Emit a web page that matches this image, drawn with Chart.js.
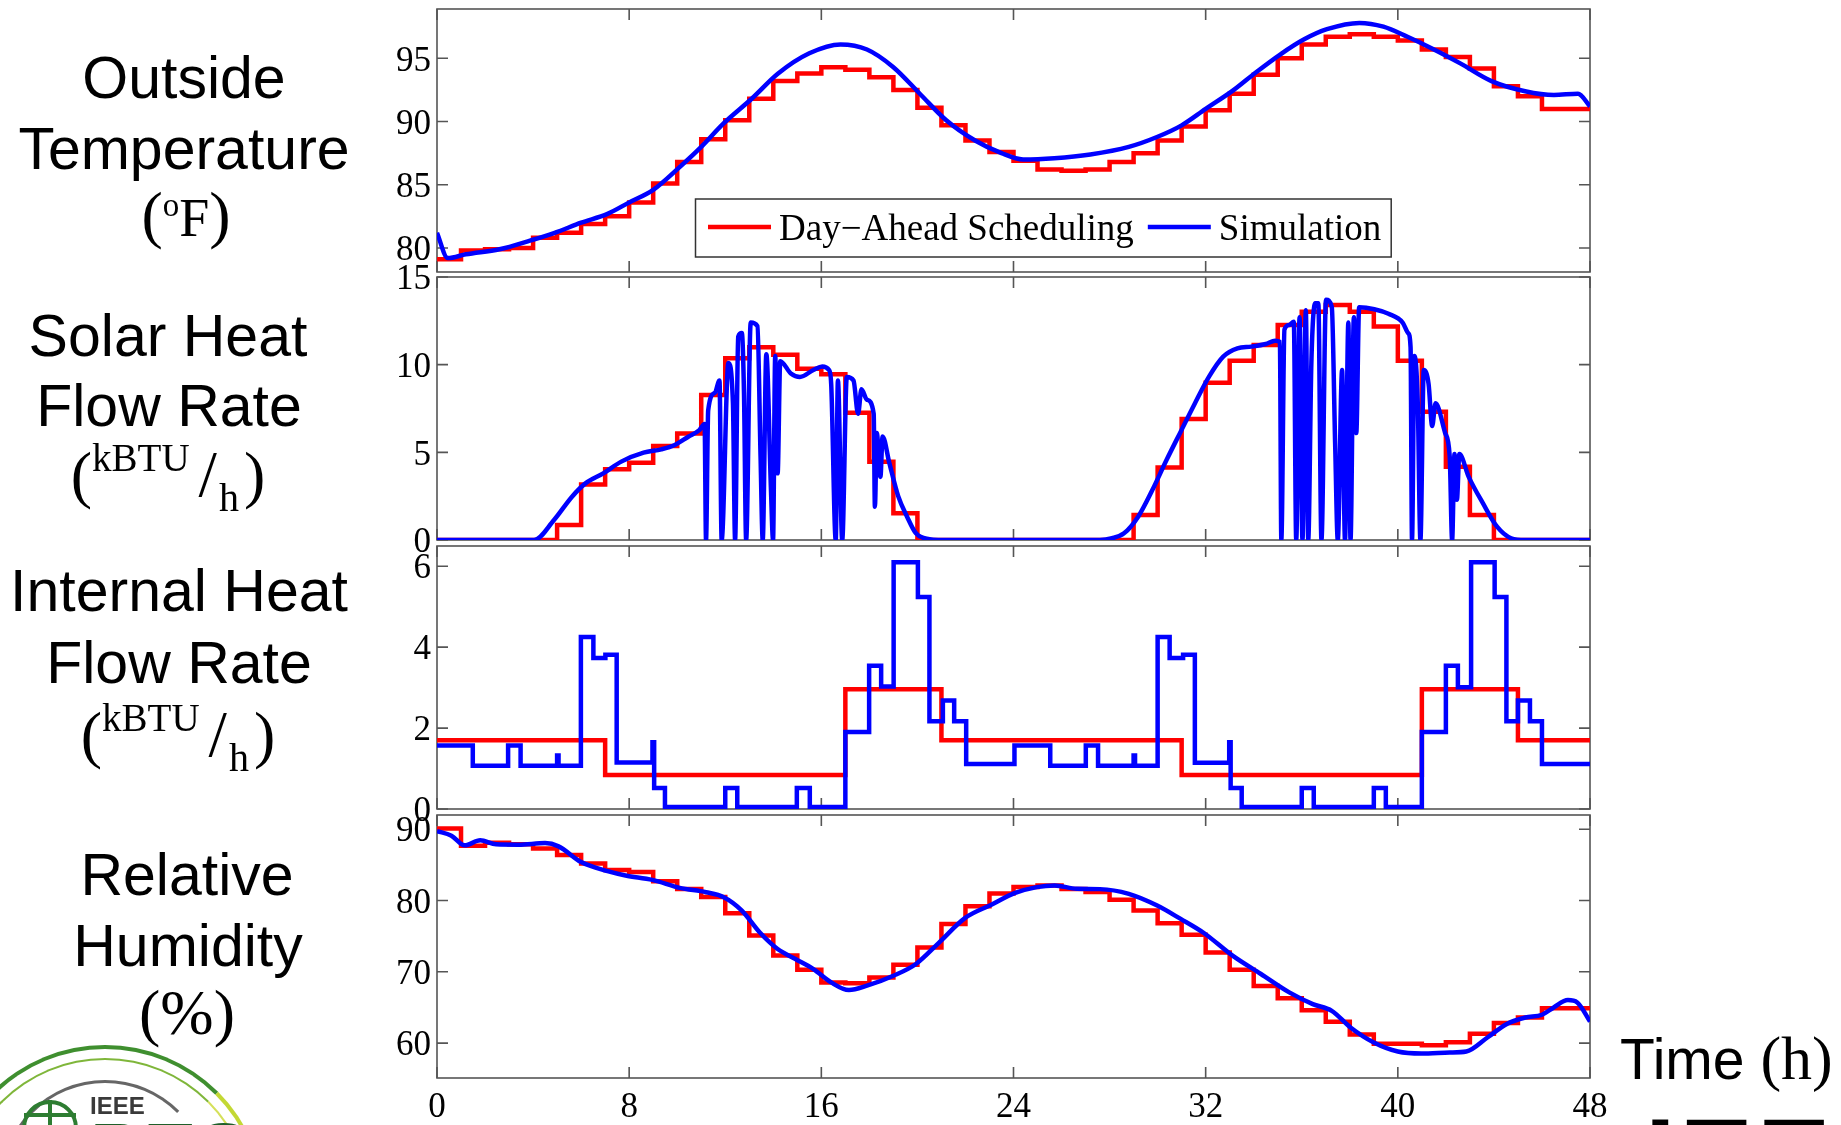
<!DOCTYPE html>
<html>
<head>
<meta charset="utf-8">
<title>Day-ahead scheduling vs simulation</title>
<script src="https://cdn.jsdelivr.net/npm/chart.js@4.4.1/dist/chart.umd.min.js"></script>
<style>
html, body { margin: 0; padding: 0; background: #fff; }
#page { position: relative; width: 1841px; height: 1125px; overflow: hidden; background: #fff; }
#page canvas { position: absolute; left: 0; }
.lab { position: absolute; width: 420px; text-align: center; white-space: nowrap; line-height: 1; color: #000; }
.sans { font-family: "Liberation Sans", Arial, sans-serif; font-size: 59px; }
.serif { font-family: "Liberation Serif", "Times New Roman", serif; font-size: 64px; }
.shift { position: relative; line-height: 1; }
.logo-arc { position: absolute; border-radius: 50%; box-sizing: border-box; }
</style>
</head>
<body>
<div id="page">
  <canvas id="c1" width="1640" height="297" style="top:0px"></canvas>
  <canvas id="c2" width="1640" height="313" style="top:252px"></canvas>
  <canvas id="c3" width="1640" height="313" style="top:521px"></canvas>
  <canvas id="c4" width="1640" height="335" style="top:790px"></canvas>
</div>
<script>
// values: hourly schedule (red) and simulated traces (blue)

var hours = [0, 1, 2, 3, 4, 5, 6, 7, 8, 9, 10, 11, 12, 13, 14, 15, 16, 17, 18, 19, 20, 21, 22, 23,
	24, 25, 26, 27, 28, 29, 30, 31, 32, 33, 34, 35, 36, 37, 38, 39, 40, 41, 42, 43, 44, 45, 46, 47];
var timeTicks = [0, 8, 16, 24, 32, 40, 48];

// outside temperature (F)
var tempTicks = [80, 85, 90, 95];
var tempSched = [79.1, 79.8, 79.9, 80.0, 80.8, 81.2, 81.9, 82.5, 83.6, 85.1, 86.8, 88.6,
	90.1, 91.8, 93.2, 93.8, 94.3, 94.1, 93.5, 92.5, 91.1, 89.7, 88.5, 87.6,
	86.9, 86.2, 86.1, 86.2, 86.8, 87.5, 88.5, 89.6, 90.9, 92.2, 93.7, 95.0,
	96.1, 96.7, 96.9, 96.7, 96.4, 95.7, 95.1, 94.2, 92.8, 92.0, 91.0, 91.0];
var tempSimT = [0, 0.45, 1.2, 2.6, 3.9, 4.9, 6.0, 7.1, 8.0, 9.0, 10.1, 11.0, 11.9, 13.1, 14.2, 15.5,
	16.8, 17.9, 19.0, 20.1, 21.2, 22.4, 23.5, 24.4, 25.7, 27.2, 28.8, 30.0, 31.0, 32.0, 33.1,
	34.1, 35.1, 36.1, 37.05, 38.4, 39.4, 40.4, 41.4, 42.6, 43.9, 45.3, 46.5, 47.5, 48];
var tempSimV = [81.2, 79.2, 79.5, 79.9, 80.6, 81.2, 82.0, 82.7, 83.6, 84.6, 86.4, 88.0, 89.8, 91.8, 93.8, 95.4,
	96.1, 95.7, 94.3, 92.2, 90.1, 88.5, 87.5, 87.0, 87.1, 87.4, 88.0, 88.8, 89.7, 91.0, 92.4,
	93.9, 95.3, 96.5, 97.3, 97.8, 97.5, 96.7, 95.8, 94.6, 93.2, 92.4, 92.1, 92.2, 91.2];

// solar heat flow rate (kBTU/h)
var solarTicks = [0, 5, 10, 15];
var solarSched = [0, 0, 0, 0, 0, 0.86, 3.17, 4.03, 4.41, 5.36, 6.08, 8.27,
	10.36, 10.99, 10.57, 9.77, 9.45, 7.26, 4.47, 1.52, 0, 0, 0, 0,
	0, 0, 0, 0, 0, 1.43, 4.14, 6.90, 8.97, 10.23, 11.12, 12.26,
	13.02, 13.40, 13.02, 12.17, 10.23, 7.32, 4.18, 1.43, 0, 0, 0, 0];
var solarSimT = [0, 4.04, 4.87, 5.62, 6.18, 6.92, 7.67, 8.60, 9.34, 9.90, 10.46, 10.92, 11.14,
	11.20, 11.29, 11.57, 11.76, 11.85, 12.13, 12.32, 12.41, 12.54, 12.69, 12.78, 12.87,
	13.06, 13.34, 13.47, 13.56, 13.71, 13.90, 13.99, 14.08, 14.18, 14.29, 14.73, 15.11,
	15.67, 16.04, 16.32, 16.41, 16.60, 16.69, 16.87, 17.06, 17.34, 17.53, 17.67, 17.90,
	18.18, 18.23, 18.31, 18.46, 18.55, 18.83, 19.20, 19.57, 19.94, 20.50, 20.87,
	27.6, 28.1, 28.6, 29.19, 29.78, 30.37, 30.96, 31.55, 32.14, 32.73, 33.32, 33.9, 34.5,
	34.89, 35.09, 35.15, 35.28, 35.48, 35.67, 35.77, 35.91, 36.03, 36.17, 36.27, 36.4,
	36.56, 36.69, 36.82, 37.01, 37.25, 37.39, 37.5, 37.68, 37.8, 37.94, 38.03, 38.17,
	38.27, 38.39, 39.02, 39.61, 40.2, 40.43, 40.53, 40.59, 40.69, 40.83, 40.94, 41.08,
	41.28, 41.43, 41.57, 41.97, 42.16, 42.26, 42.36, 42.46, 42.56, 42.95, 43.54, 44.13,
	44.72, 45.3, 48];
var solarSimV = [0, 0, 1.14, 2.47, 3.23, 3.80, 4.47, 4.98, 5.17, 5.42, 5.89, 6.27, 6.62,
	0, 7.4, 8.4, 9.1, 0, 10.1, 7.8, 0, 11.6, 11.8, 8.4, 0,
	12.4, 12.2, 4.75, 0, 10.6, 3.0, 0, 10.5, 3.8, 10.2, 9.5, 9.3,
	9.7, 9.9, 9.7, 8.9, 0, 9.1, 0, 9.3, 9.1, 7.2, 8.6, 8.0,
	7.2, 1.9, 6.1, 3.6, 5.9, 4.4, 2.5, 1.33, 0.38, 0.04, 0,
	0, 0.1, 0.38, 1.33, 2.85, 4.56, 6.18, 7.79, 9.32, 10.46, 10.93, 11.03, 11.18,
	11.37, 11.3, 0, 12.0, 12.26, 12.45, 0, 12.7, 0, 13.1, 0, 10.1,
	13.5, 13.5, 0, 13.7, 13.3, 5.5, 0, 9.7, 0, 12.4, 0, 12.7,
	6.1, 13.27, 13.16, 12.9, 12.4, 11.8, 11.0, 0, 10.5, 7.8, 0, 9.7,
	8.9, 6.5, 7.8, 6.1, 4.75, 0, 4.9, 2.3, 4.9, 3.6, 2.1, 0.76,
	0.1, 0, 0];

// internal heat flow rate (kBTU/h)
var internalTicks = [0, 2, 4, 6];
var internalSched = [1.70, 1.70, 1.70, 1.70, 1.70, 1.70, 1.70, 0.84, 0.84, 0.84, 0.84, 0.84,
	0.84, 0.84, 0.84, 0.84, 0.84, 2.96, 2.96, 2.96, 2.96, 1.70, 1.70, 1.70,
	1.70, 1.70, 1.70, 1.70, 1.70, 1.70, 1.70, 0.84, 0.84, 0.84, 0.84, 0.84,
	0.84, 0.84, 0.84, 0.84, 0.84, 2.96, 2.96, 2.96, 2.96, 1.70, 1.70, 1.70];
var internalSimT = [0, 1.49, 2.96, 3.48, 5.0, 5.06, 5.99, 6.51, 7.01, 7.48, 8.97, 9.04, 9.49,
	12.0, 12.5, 14.98, 15.52, 17.0, 17.99, 18.49, 19.01, 20.02, 20.5, 21.06, 21.53, 22.03,
	24.04, 25.53, 27.01, 27.52, 29.0, 29.06, 30.0, 30.5, 31.06, 31.55, 32.98, 33.04, 33.5,
	36.0, 36.5, 39.0, 39.5, 41.0, 42.0, 42.5, 43.05, 44.03, 44.52, 45.0, 45.5, 46.0, 48];
var internalSimV = [1.57, 1.07, 1.57, 1.07, 1.32, 1.07, 4.25, 3.73, 3.81, 1.15, 1.65, 0.52, 0.05,
	0.52, 0.05, 0.52, 0.05, 1.90, 3.54, 3.03, 6.10, 5.24, 2.17, 2.68, 2.17, 1.11,
	1.57, 1.07, 1.57, 1.07, 1.32, 1.07, 4.25, 3.73, 3.81, 1.14, 1.65, 0.52, 0.05,
	0.52, 0.05, 0.52, 0.05, 1.90, 3.54, 3.01, 6.10, 5.24, 2.17, 2.68, 2.17, 1.11, 1.11];

// relative humidity (%)
var humidTicks = [60, 70, 80, 90];
var humidSched = [90.1, 87.7, 88.1, 87.9, 87.3, 86.4, 85.2, 84.3, 84.0, 82.7, 81.6, 80.5,
	78.2, 75.1, 72.3, 70.3, 68.5, 68.4, 69.2, 71.0, 73.4, 76.7, 79.2, 81.0,
	81.9, 82.1, 81.6, 81.2, 80.1, 78.6, 76.8, 75.2, 72.7, 70.3, 68.0, 66.3,
	64.6, 63.0, 61.2, 59.9, 59.9, 59.7, 60.1, 61.3, 62.8, 63.6, 64.9, 64.9];
var humidSimT = [0, 0.6, 1.15, 1.8, 2.46, 3.39, 4.5, 5.06, 6.0, 7.1, 7.85, 8.97, 10.1, 11.2, 11.94,
	12.69, 13.43, 14.18, 14.92, 15.67, 16.41, 17.15, 17.9, 19.0, 19.94, 20.87, 21.99, 23.1,
	24.04, 24.97, 25.71, 26.64, 27.6, 28.8, 29.98, 30.96, 31.94, 33.12, 34.3, 35.48, 36.46,
	37.25, 38.03, 39.0, 40.0, 40.98, 42.16, 42.85, 43.73, 44.52, 45.31, 46.0, 46.49, 47.08,
	47.47, 48];
var humidSimV = [89.75, 89.1, 87.74, 88.44, 87.88, 87.83, 88.06, 87.6, 85.39, 84.13, 83.52, 82.9, 81.78, 81.17, 80.47,
	78.59, 75.55, 73.2, 71.8, 70.39, 68.51, 67.44, 68.05, 69.45, 71.1, 74.0, 77.56, 79.44,
	81.03, 81.88, 82.11, 81.64, 81.6, 80.94, 79.3, 77.42, 75.41, 72.26, 69.69, 67.11, 65.47,
	64.53, 62.19, 60.08, 58.81, 58.53, 58.67, 58.81, 60.78, 62.65, 63.59, 63.97, 65.0, 66.03,
	65.7, 63.03];

var schedLabel = 'Day\u2212Ahead Scheduling';
var simLabel = 'Simulation';

// ---- drawing ----

var SERIF = '"Liberation Serif", "Times New Roman", serif';
var AXIS_LEFT = 437;
var TICK_LEN = 11;

function stepPoints(vals) {
	var pts = hours.map(function(h, i) { return {x: h, y: vals[i]}; });
	pts.push({x: 48, y: vals[vals.length - 1]});
	return pts;
}
function tracePoints(t, v) {
	return t.map(function(x, i) { return {x: x, y: v[i]}; });
}

// box round the plot with inward ticks on all four sides (matlab look)
var frame = {
	id: 'frame',
	beforeDatasetsDraw: function(chart) {
		var ctx = chart.ctx, a = chart.chartArea, xs = chart.scales.x, ys = chart.scales.y;
		ctx.save();
		ctx.strokeStyle = '#555';
		ctx.lineWidth = 1.6;
		ctx.strokeRect(a.left, a.top, a.right - a.left, a.bottom - a.top);
		ctx.beginPath();
		xs.ticks.forEach(function(t) {
			var px = xs.getPixelForValue(t.value);
			ctx.moveTo(px, a.bottom); ctx.lineTo(px, a.bottom - TICK_LEN);
			ctx.moveTo(px, a.top); ctx.lineTo(px, a.top + TICK_LEN);
		});
		ys.ticks.forEach(function(t) {
			var py = ys.getPixelForValue(t.value);
			ctx.moveTo(a.left, py); ctx.lineTo(a.left + TICK_LEN, py);
			ctx.moveTo(a.right, py); ctx.lineTo(a.right - TICK_LEN, py);
		});
		ctx.stroke();
		ctx.restore();
	}
};

// legend box drawn inside the top panel
var legendBox = {
	id: 'legendBox',
	afterDatasetsDraw: function(chart) {
		var ctx = chart.ctx, a = chart.chartArea;
		var sets = chart.data.datasets;
		ctx.save();
		ctx.font = '37px ' + SERIF;
		var left = a.left + 258.5, top = a.top + 190, h = 58;
		var lineLen = 63, textGap = 8, itemGap = 14;
		var w = 12.5;
		sets.forEach(function(s, i) {
			w += lineLen + textGap + ctx.measureText(s.label).width + (i < sets.length - 1 ? itemGap : 10);
		});
		ctx.fillStyle = '#fff';
		ctx.fillRect(left, top, w, h);
		ctx.strokeStyle = '#333';
		ctx.lineWidth = 1.5;
		ctx.strokeRect(left, top, w, h);
		var x = left + 12.5;
		sets.forEach(function(s) {
			ctx.strokeStyle = s.borderColor;
			ctx.lineWidth = 4.5;
			ctx.beginPath();
			ctx.moveTo(x, top + 28); ctx.lineTo(x + lineLen, top + 28);
			ctx.stroke();
			x += lineLen + textGap;
			ctx.fillStyle = '#000';
			ctx.textBaseline = 'alphabetic';
			ctx.fillText(s.label, x, top + 41);
			x += ctx.measureText(s.label).width + itemGap;
		});
		ctx.restore();
	}
};

function makePanel(id, opt) {
	var ctx = document.getElementById(id).getContext('2d');
	var simSet = {
		label: simLabel,
		data: tracePoints(opt.simT, opt.simV),
		borderColor: '#0000ff',
		borderWidth: 4.5,
		pointRadius: 0,
		order: 0
	};
	if (opt.simStepped) {
		simSet.stepped = 'before';
	} else {
		simSet.cubicInterpolationMode = 'monotone';
	}
	return new Chart(ctx, {
		type: 'line',
		data: {
			datasets: [{
				label: schedLabel,
				data: stepPoints(opt.sched),
				borderColor: '#ff0000',
				borderWidth: 4.5,
				pointRadius: 0,
				stepped: 'before',
				order: 1
			}, simSet]
		},
		options: {
			responsive: false,
			animation: false,
			devicePixelRatio: 1,
			events: [],
			layout: { padding: { left: 0, right: 50, top: opt.padTop, bottom: opt.padBottom } },
			plugins: { legend: { display: false }, tooltip: { enabled: false } },
			scales: {
				x: {
					type: 'linear', min: 0, max: 48,
					grid: { display: false, drawTicks: false },
					border: { display: false },
					ticks: { display: opt.showX, color: '#000', font: { family: SERIF, size: 35 }, padding: 9, maxRotation: 0, autoSkip: false },
					afterBuildTicks: function(s) { s.ticks = timeTicks.map(function(v) { return {value: v}; }); },
					afterFit: function(s) { s.height = opt.xHeight; s.paddingLeft = 0; s.paddingRight = 0; }
				},
				y: {
					type: 'linear', min: opt.min, max: opt.max,
					grid: { display: false, drawTicks: false },
					border: { display: false },
					ticks: { color: '#000', font: { family: SERIF, size: 35 }, padding: 6, labelOffset: 3, autoSkip: false },
					afterBuildTicks: function(s) { s.ticks = opt.ticks.map(function(v) { return {value: v}; }); },
					afterFit: function(s) { s.width = AXIS_LEFT; s.paddingTop = 0; s.paddingBottom = 0; }
				}
			}
		},
		plugins: opt.legend ? [frame, legendBox] : [frame]
	});
}

makePanel('c1', { sched: tempSched, simT: tempSimT, simV: tempSimV, ticks: tempTicks,
	min: 78.1, max: 98.9, padTop: 9, padBottom: 25, xHeight: 0, showX: false, legend: true });
makePanel('c2', { sched: solarSched, simT: solarSimT, simV: solarSimV, ticks: solarTicks,
	min: 0, max: 15, padTop: 25, padBottom: 25, xHeight: 0, showX: false });
makePanel('c3', { sched: internalSched, simT: internalSimT, simV: internalSimV, ticks: internalTicks,
	min: 0, max: 6.5, padTop: 25, padBottom: 25, xHeight: 0, showX: false, simStepped: true });
makePanel('c4', { sched: humidSched, simT: humidSimT, simV: humidSimV, ticks: humidTicks,
	min: 55.1, max: 92, padTop: 25, padBottom: 0, xHeight: 47, showX: true });

// row titles on the left, plus the time label
var unitK = '(<span class="shift" style="font-size:39px;top:-25px">kBTU</span>' +
	'<span style="font-size:66px;margin-left:9px">/</span>' +
	'<span class="shift" style="font-size:40px;top:15px;margin:0 5px 0 2px">h</span>)';
var rowLabels = [
	{ cls: 'sans', cx: 184, base: 99, html: 'Outside' },
	{ cls: 'sans', cx: 184, base: 170, html: 'Temperature' },
	{ cls: 'serif', cx: 186, base: 237, html: '(<span class="shift" style="font-size:33px;top:-20px">o</span><span style="font-size:54px">F</span>)' },
	{ cls: 'sans', cx: 168, base: 357, html: 'Solar Heat' },
	{ cls: 'sans', cx: 169, base: 427, html: 'Flow Rate' },
	{ cls: 'serif', cx: 168, base: 495, html: unitK },
	{ cls: 'sans', cx: 179, base: 612, html: 'Internal Heat' },
	{ cls: 'sans', cx: 179, base: 684, html: 'Flow Rate' },
	{ cls: 'serif', cx: 178, base: 755, html: unitK },
	{ cls: 'sans', cx: 187, base: 896, html: 'Relative' },
	{ cls: 'sans', cx: 188, base: 967, html: 'Humidity' },
	{ cls: 'serif', cx: 187, base: 1035, html: '(%)' }
];
var page = document.getElementById('page');
rowLabels.forEach(function(l) {
	var d = document.createElement('div');
	d.className = 'lab ' + l.cls;
	d.innerHTML = l.html;
	var asc = l.cls === 'sans' ? 0.8465 * 59 : 0.8375 * 64;
	d.style.left = (l.cx - 210) + 'px';
	d.style.top = (l.base - asc) + 'px';
	page.appendChild(d);
});

var timeLab = document.createElement('div');
timeLab.style.cssText = 'position:absolute;left:1620px;top:1058px;line-height:1;white-space:nowrap;color:#000;';
timeLab.innerHTML = '<span style="font-family:\'Liberation Sans\',Arial,sans-serif;font-size:57px;line-height:0">Time </span>' +
	'<span style="font-family:\'Liberation Serif\',serif;font-size:62px;line-height:0">(h)</span>';
page.appendChild(timeLab);

// partial logos cut by the bottom edge
var logo = document.createElement('div');
logo.innerHTML =
	'<div class="logo-arc" style="left:-55px;top:1045px;width:320px;height:320px;border:4px solid #3f8f2f;border-right-color:#c3d834;"></div>' +
	'<div class="logo-arc" style="left:-42px;top:1058px;width:294px;height:294px;border:2px solid #7fb63a;border-right-color:#d5e05a;"></div>' +
	'<div class="logo-arc" style="left:0px;top:1080px;width:210px;height:210px;border:3px solid #666;border-right-color:transparent;border-bottom-color:transparent;"></div>' +
	'<div class="logo-arc" style="left:22px;top:1100px;width:56px;height:56px;border:4px solid #2e7d32;"></div>' +
	'<div style="position:absolute;left:48px;top:1100px;width:4px;height:30px;background:#2e7d32"></div>' +
	'<div style="position:absolute;left:24px;top:1113px;width:52px;height:4px;background:#2e7d32"></div>' +
	'<div style="position:absolute;left:90px;top:1094px;font:bold 24px \'Liberation Sans\',Arial,sans-serif;line-height:1;color:#3a3a3a">IEEE</div>' +
	'<div style="position:absolute;left:90px;top:1112px;font:bold 80px \'Liberation Sans\',Arial,sans-serif;line-height:1;color:#1f5f2a">PES</div>' +
	'<div style="position:absolute;left:1645px;top:1102px;font:bold 110px \'Liberation Sans\',Arial,sans-serif;line-height:1;color:#000;letter-spacing:4px">IEEE</div>';
page.appendChild(logo);
</script>
</body>
</html>
